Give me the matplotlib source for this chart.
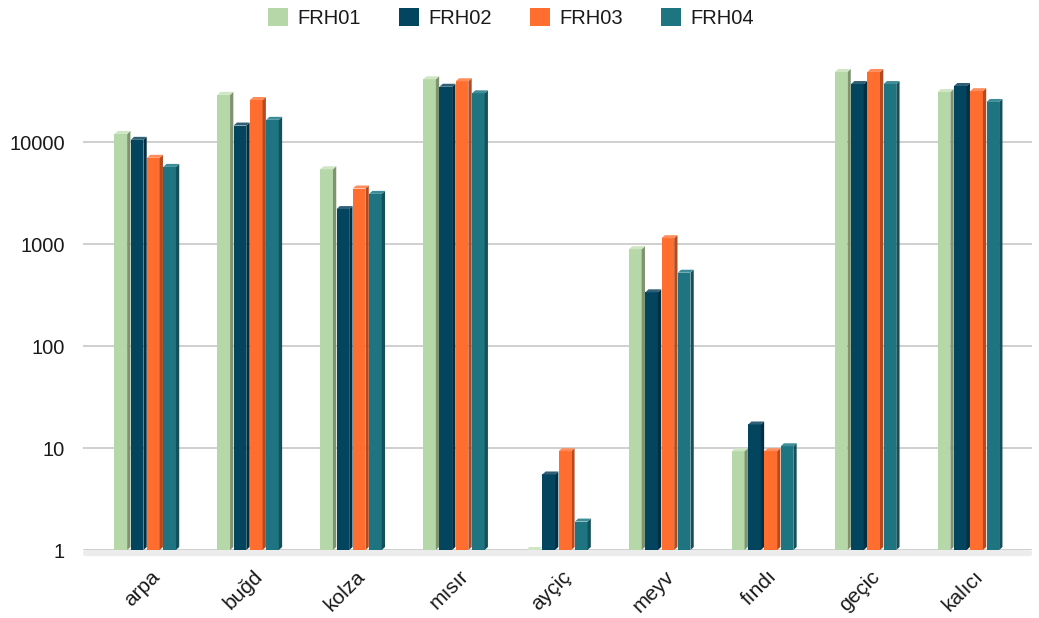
import numpy as np
import matplotlib.pyplot as plt
from matplotlib.patches import Polygon, Patch, FancyBboxPatch
from matplotlib.transforms import ScaledTranslation

plt.rcParams['font.family'] = ['Liberation Sans', 'DejaVu Sans']

categories = ['arpa', 'buğd', 'kolza', 'mısır', 'ayçiç', 'meyv', 'fındı', 'geçic', 'kalıcı']
series = ['FRH01', 'FRH02', 'FRH03', 'FRH04']
frh01 = [12000, 29000, 5400, 41200, 1, 890, 9.3, 48600, 30900]
frh02 = [10500, 14500, 2200, 34800, 5.5, 336, 17, 37000, 35400]
frh03 = [7000, 25800, 3500, 39400, 9.3, 1140, 9.3, 48600, 31500]
frh04 = [5700, 16500, 3100, 30000, 1.9, 523, 10.4, 37000, 24700]
values = [frh01, frh02, frh03, frh04]

front = ['#b6d7a8', '#03445e', '#ff6d2f', '#1f7481']
side = ['#7e9471', '#012e40', '#b44a1f', '#14505a']
top = ['#cfe5c4', '#2f6077', '#ff8c5a', '#3f8d98']

fig = plt.figure(figsize=(10.39, 6.18), dpi=100)
ax = fig.add_axes([83 / 1039, 68 / 618, 949 / 1039, 510 / 618])

ax.set_yscale('log')
ax.set_ylim(1, 1e5)
ax.set_xlim(-0.622, 8.6)

x = np.arange(len(categories))
pitch = 0.158
width = 0.123
dx = 0.032
k = 10 ** (3 / 102)

for i, vals in enumerate(values):
    left = x - 0.316 + i * pitch
    ax.bar(left, np.array(vals) - 1, width=width, bottom=1, align='edge',
           color=front[i], linewidth=0, zorder=3)
    for xl, v in zip(left, vals):
        xr = xl + width
        ax.add_patch(Polygon([(xr, 1), (xr, v), (xr + dx, v * k), (xr + dx, k)],
                             closed=True, facecolor=side[i], linewidth=0, zorder=3))
        ax.add_patch(Polygon([(xl, v), (xr, v), (xr + dx, v * k), (xl + dx, v * k)],
                             closed=True, facecolor=top[i], linewidth=0, zorder=3))

# floor under the bars
ax.add_patch(FancyBboxPatch((0, -0.012), 1, 0.012, boxstyle='round,pad=0,rounding_size=0.004',
                            transform=ax.transAxes, facecolor='#ececec', edgecolor='none',
                            zorder=2, clip_on=False))

ax.set_yticks([1, 10, 100, 1000, 10000])
ax.set_yticklabels(['1', '10', '100', '1000', '10000'])
ax.minorticks_off()
ax.yaxis.grid(True, color='#cccccc', linewidth=1.3, zorder=1)
ax.tick_params(axis='y', length=0, pad=13, labelsize=14.5, labelcolor='#1a1a1a')

ax.set_xticks(x)
ax.set_xticklabels(categories, rotation=45, ha='right', va='center', rotation_mode='anchor')
ax.tick_params(axis='x', length=0, pad=17, labelsize=15, labelcolor='#1a1a1a')
shift = ScaledTranslation(7 / 72, 0, fig.dpi_scale_trans)
for lab in ax.get_xticklabels():
    lab.set_transform(lab.get_transform() + shift)

for s in ax.spines.values():
    s.set_visible(False)

handles = [Patch(facecolor=c, edgecolor='none') for c in front]
fig.legend(handles, series, loc='center', bbox_to_anchor=(511 / 1039, 1 - 18 / 618),
           ncol=4, frameon=False, fontsize=14.5, handlelength=1.0, handleheight=1.0,
           handletextpad=0.45, columnspacing=1.9, labelcolor='#1a1a1a')

fig.savefig('out.png', dpi=100)
